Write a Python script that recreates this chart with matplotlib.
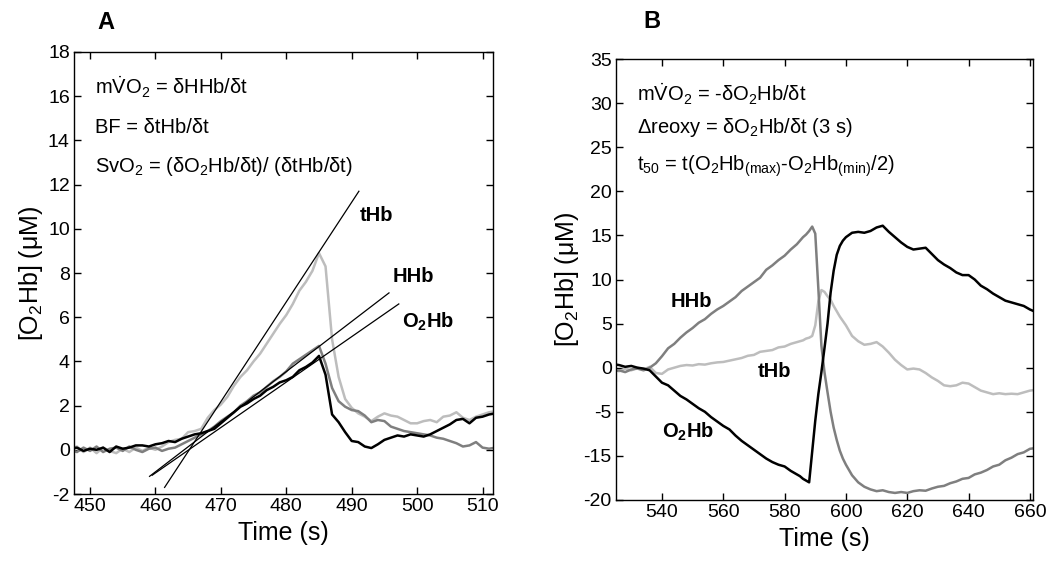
import numpy as np
import matplotlib
matplotlib.use("Agg")
import matplotlib.pyplot as plt

plt.rcParams['font.family'] = ['Liberation Sans', 'DejaVu Sans']
plt.rcParams['mathtext.fontset'] = 'custom'
plt.rcParams['mathtext.rm'] = 'Liberation Sans'
plt.rcParams['mathtext.it'] = 'Liberation Sans:italic'
plt.rcParams['mathtext.bf'] = 'Liberation Sans:bold'
plt.rcParams['mathtext.default'] = 'regular'
plt.rcParams['axes.unicode_minus'] = False

# ---- panel A data (1 s samples) ----
tA = np.arange(447, 513)
thb_A = [0.05, 0.15, -0.1, 0.1, -0.15, 0.1, -0.05, -0.15, 0.05, -0.1,
         0.1, -0.05, 0.1, 0.0, 0.15, 0.35, 0.45, 0.5, 0.8, 0.85,
         0.95, 1.45, 1.8, 2.05, 2.4, 2.9, 3.3, 3.6, 4.0, 4.35,
         4.8, 5.25, 5.7, 6.1, 6.6, 7.2, 7.6, 8.1, 8.9, 8.3,
         5.0, 3.3, 2.3, 1.9, 1.65, 1.5, 1.3, 1.5, 1.65, 1.55,
         1.5, 1.35, 1.2, 1.2, 1.3, 1.35, 1.25, 1.5, 1.55, 1.7,
         1.45, 1.35, 1.5, 1.6, 1.7, 1.75]
hhb_A = [0.0, -0.1, 0.1, -0.05, 0.15, -0.1, 0.05, 0.1, -0.05, 0.15,
         0.0, -0.1, 0.05, 0.1, -0.05, 0.05, 0.1, 0.25, 0.4, 0.55,
         0.7, 0.85, 1.05, 1.3, 1.5, 1.7, 2.0, 2.2, 2.45, 2.6,
         2.85, 3.1, 3.3, 3.55, 3.9, 4.1, 4.3, 4.5, 4.7, 3.9,
         2.8, 2.2, 1.95, 1.8, 1.75, 1.55, 1.25, 1.35, 1.3, 1.05,
         0.95, 0.85, 0.8, 0.75, 0.7, 0.65, 0.55, 0.5, 0.4, 0.3,
         0.15, 0.2, 0.35, 0.1, 0.05, 0.1]
o2hb_A = [0.05, 0.1, -0.05, 0.05, 0.0, 0.1, -0.1, 0.15, 0.05, 0.1,
          0.2, 0.2, 0.15, 0.25, 0.3, 0.4, 0.35, 0.5, 0.6, 0.7,
          0.75, 0.85, 0.95, 1.2, 1.45, 1.7, 1.95, 2.1, 2.3, 2.45,
          2.7, 2.85, 3.05, 3.15, 3.3, 3.6, 3.75, 3.95, 4.25, 3.4,
          1.6, 1.25, 0.8, 0.4, 0.35, 0.15, 0.08, 0.25, 0.45, 0.55,
          0.65, 0.6, 0.7, 0.65, 0.6, 0.7, 0.85, 1.0, 1.15, 1.35,
          1.4, 1.2, 1.45, 1.5, 1.6, 1.65]

# regression lines (start/end points)
fit_x = {'tHb': [461.4, 491.1], 'HHb': [459.1, 495.7], 'O2Hb': [459.5, 497.2]}
fit_y = {'tHb': [-1.7, 11.7], 'HHb': [-1.2, 7.1], 'O2Hb': [-1.15, 6.6]}

# ---- panel B data (2 s samples, 1 s around the occlusion release) ----
tB = np.r_[524:584:2, 584:600:1, 600:663:2]
hhb_B = [-0.4, -0.3, -0.5, -0.2, -0.1, -0.3, 0.0, 0.5, 1.3, 2.2,
         2.7, 3.4, 4.0, 4.5, 5.1, 5.5, 6.1, 6.6, 7.0, 7.5,
         8.0, 8.7, 9.2, 9.7, 10.2, 11.1, 11.6, 12.2, 12.7, 13.4,
         14.0, 14.4, 14.8, 15.1, 15.5, 16.0, 15.2, 9.0, 2.5, -0.5,
         -2.8, -5.0, -6.8, -8.2, -9.4, -10.3,
         -11.0, -12.2, -13.0, -13.5, -13.8, -14.0, -13.9, -14.1, -14.2, -14.1,
         -14.2, -14.0, -13.9, -13.95, -13.7, -13.5, -13.4, -13.1, -12.9, -12.6,
         -12.5, -12.1, -11.9, -11.6, -11.2, -11.0, -10.5, -10.2, -9.8, -9.6,
         -9.2, -9.1]
thb_B = [-0.2, -0.4, -0.1, -0.3, 0.0, -0.2, 0.1, -0.6, -0.7, -0.2,
         0.0, 0.2, 0.3, 0.25, 0.4, 0.35, 0.5, 0.6, 0.65, 0.8,
         0.95, 1.1, 1.35, 1.45, 1.8, 1.9, 2.0, 2.3, 2.4, 2.7,
         2.9, 3.0, 3.1, 3.3, 3.4, 3.6, 4.8, 7.5, 8.8, 8.6,
         8.1, 7.7, 7.0, 6.4, 5.8, 5.3,
         4.8, 3.6, 3.0, 2.6, 2.7, 2.9, 2.4, 1.7, 0.9, 0.3,
         -0.2, -0.1, -0.2, -0.6, -1.1, -1.5, -2.0, -2.1, -2.0, -1.7,
         -1.8, -2.2, -2.6, -2.8, -3.0, -2.9, -3.0, -2.95, -3.0, -2.8,
         -2.6, -2.5]
o2hb_B = [0.4, 0.3, 0.1, 0.2, 0.0, -0.1, -0.3, -1.0, -1.7, -2.0,
          -2.6, -3.2, -3.6, -4.1, -4.6, -5.0, -5.6, -6.1, -6.6, -7.0,
          -7.7, -8.3, -8.8, -9.3, -9.8, -10.3, -10.7, -11.0, -11.2, -11.7,
          -12.1, -12.3, -12.6, -12.8, -13.0, -9.5, -6.0, -3.0, -0.5, 2.2,
          5.0, 8.5, 11.0, 12.8, 13.8, 14.4,
          14.8, 15.3, 15.4, 15.3, 15.5, 15.9, 16.1, 15.4, 14.8, 14.2,
          13.7, 13.4, 13.5, 13.6, 12.9, 12.2, 11.7, 11.3, 10.8, 10.5,
          10.5, 10.0, 9.3, 8.9, 8.4, 8.0, 7.6, 7.4, 7.2, 7.0,
          6.6, 6.3]

yticks_B = [35, 30, 25, 20, 15, 10, 5, 0, -5, -10, -15]
ytick_labels_B = ['35', '30', '25', '20', '15', '10', '5', '0', '-5', '-15', '-20']

c_thb, c_hhb, c_o2hb = '#bdbdbd', '#7f7f7f', 'black'
fs_tick, fs_lab, fs_txt = 14, 18, 14.5

fig = plt.figure(figsize=(10.6, 5.67), dpi=100)
axA = fig.add_axes([0.0698, 0.1287, 0.3953, 0.7796])
axB = fig.add_axes([0.5811, 0.1182, 0.3934, 0.7777])

# panel A
axA.plot(tA, thb_A, color=c_thb, lw=1.8)
axA.plot(tA, hhb_A, color=c_hhb, lw=1.8)
axA.plot(tA, o2hb_A, color=c_o2hb, lw=1.8)
for k in fit_x:
    axA.plot(fit_x[k], fit_y[k], color='black', lw=0.9)
axA.set_xlim(447.55, 511.6)
axA.set_ylim(-2, 18)
axA.set_xticks(range(450, 511, 10))
axA.set_yticks(range(-2, 19, 2))
axA.text(491.3, 10.6, 'tHb', fontsize=fs_txt, fontweight='bold', va='center')
axA.text(496.3, 7.85, 'HHb', fontsize=fs_txt, fontweight='bold', va='center')
axA.text(497.7, 5.8, r'O$_\mathbf{2}$Hb', fontsize=fs_txt, fontweight='bold', va='center')
axA.text(0.05, 0.92, r'm$\dot{V}$O$_2$ = δHHb/δt', transform=axA.transAxes,
         fontsize=fs_txt, va='center')
axA.text(0.05, 0.83, 'BF = δtHb/δt', transform=axA.transAxes, fontsize=fs_txt, va='center')
axA.text(0.05, 0.74, r'SvO$_2$ = (δO$_2$Hb/δt)/ (δtHb/δt)', transform=axA.transAxes,
         fontsize=fs_txt, va='center')

# panel B
axB.plot(tB, thb_B, color=c_thb, lw=1.8)
axB.plot(tB, hhb_B, color=c_hhb, lw=1.8)
axB.plot(tB, o2hb_B, color=c_o2hb, lw=1.8)
axB.set_xlim(525, 661)
axB.set_ylim(-15, 35)
axB.set_xticks(range(540, 661, 20))
axB.set_yticks(yticks_B)
axB.set_yticklabels(ytick_labels_B)
axB.text(542.7, 7.5, 'HHb', fontsize=fs_txt, fontweight='bold', va='center')
axB.text(571.2, -0.4, 'tHb', fontsize=fs_txt, fontweight='bold', va='center')
axB.text(540.0, -7.3, r'O$_\mathbf{2}$Hb', fontsize=fs_txt, fontweight='bold', va='center')
axB.text(0.05, 0.92, r'm$\dot{V}$O$_2$ = -δO$_2$Hb/δt', transform=axB.transAxes,
         fontsize=fs_txt, va='center')
axB.text(0.05, 0.844, r'Δreoxy = δO$_2$Hb/δt (3 s)', transform=axB.transAxes,
         fontsize=fs_txt, va='center')
axB.text(0.05, 0.756, r't$_{50}$ = t(O$_2$Hb$_{(max)}$-O$_2$Hb$_{(min)}$/2)',
         transform=axB.transAxes, fontsize=fs_txt, va='center')

for ax in (axA, axB):
    ax.tick_params(direction='in', top=True, right=True, length=5, width=1,
                   labelsize=fs_tick, pad=3)
    for s in ax.spines.values():
        s.set_linewidth(1.0)
    ax.set_xlabel('Time (s)', fontsize=fs_lab, labelpad=4)
    ax.set_ylabel(r'[O$_2$Hb] ($\mu$M)', fontsize=fs_lab, labelpad=2)

fig.text(0.1, 0.96, 'A', fontsize=17, fontweight='bold', ha='center', va='center')
fig.text(0.615, 0.962, 'B', fontsize=17, fontweight='bold', ha='center', va='center')

fig.savefig('out.png', dpi=100)
